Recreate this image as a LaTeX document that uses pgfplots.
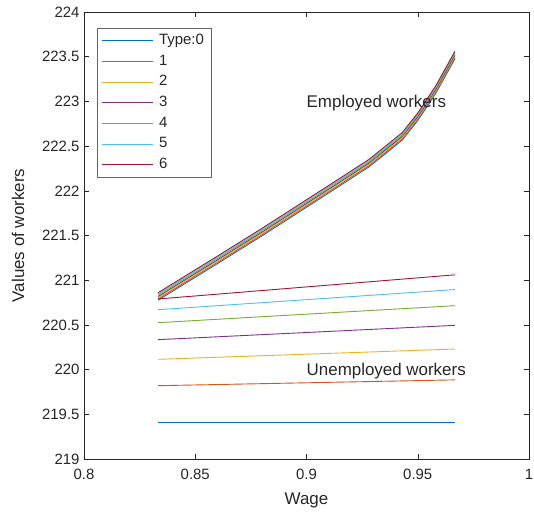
\documentclass[border=0pt]{standalone}
\usepackage{fontspec}
\setmainfont{Liberation Sans}
\usepackage{pgfplots}
\pgfplotsset{compat=1.18}
\usepackage{pgfplotstable}
\definecolor{c0}{rgb}{0,0.447,0.741}
\definecolor{c1}{rgb}{0.85,0.325,0.098}
\definecolor{c2}{rgb}{0.929,0.694,0.125}
\definecolor{c3}{rgb}{0.494,0.184,0.556}
\definecolor{c4}{rgb}{0.466,0.674,0.188}
\definecolor{c5}{rgb}{0.301,0.745,0.933}
\definecolor{c6}{rgb}{0.635,0.078,0.184}
\definecolor{axc}{rgb}{0.15,0.15,0.15}
\pgfplotstableread{
x      e0      e1      e2      e3      e4      e5      e6
0.8333 220.776 220.790 220.804 220.818 220.832 220.846 220.860
0.86   221.186 221.200 221.214 221.228 221.242 221.256 221.270
0.88   221.496 221.510 221.524 221.538 221.552 221.566 221.580
0.90   221.816 221.830 221.844 221.858 221.872 221.886 221.900
0.915  222.056 222.070 222.084 222.098 222.112 222.126 222.140
0.928  222.266 222.280 222.294 222.308 222.322 222.336 222.350
0.943  222.566 222.580 222.594 222.608 222.622 222.636 222.650
0.95   222.786 222.800 222.814 222.828 222.842 222.856 222.870
0.958  223.086 223.100 223.114 223.128 223.142 223.156 223.170
0.9667 223.476 223.490 223.504 223.518 223.532 223.546 223.560
}\employed
\pgfplotstableread{
x      u0     u1     u2     u3     u4     u5     u6
0.8333 219.41 219.82 220.115 220.335 220.525 220.67 220.79
0.9667 219.41 219.885 220.23 220.495 220.715 220.895 221.06
}\unemployed
\begin{document}
\begin{tikzpicture}
\begin{axis}[
  at={(0,0)}, anchor=south west,
  scale only axis, width=445bp, height=447bp,
  xmin=0.8, xmax=1, ymin=219, ymax=224,
  xtick={0.8,0.85,0.9,0.95,1},
  xticklabels={0.8,0.85,0.9,0.95,1},
  ytick={219,219.5,220,220.5,221,221.5,222,222.5,223,223.5,224},
  yticklabels={219,219.5,220,220.5,221,221.5,222,222.5,223,223.5,224},
  tick align=inside, major tick length=5bp,
  tick style={axc, line width=0.5bp},
  axis line style={axc, line width=0.6bp},
  ticklabel style={font=\fontsize{15}{18}\selectfont, text=axc},
  xticklabel style={yshift=-7bp},
  yticklabel style={xshift=-1bp},
  xlabel={Wage}, ylabel={Values of workers},
  label style={font=\fontsize{17}{20}\selectfont, text=axc},
  xlabel style={at={(axis description cs:0.5,-0.092)}, anchor=center},
  ylabel style={at={(axis description cs:-0.1483,0.5)}, anchor=center},
  legend cell align=left,
  legend image code/.code={\draw[#1, line width=0.9bp] (0bp,0bp) -- (51bp,0bp); \path (54bp,0bp);},
  legend style={at={(axis description cs:0.029,0.964)}, anchor=north west,
    draw=black!60, line width=0.5bp, font=\fontsize{15}{18}\selectfont, text=axc,
    inner xsep=4bp, inner ysep=3bp, row sep=2.2bp,
    nodes={text height=11bp, text depth=3.5bp, inner ysep=2bp, inner xsep=3bp}},
  every axis plot/.append style={line width=0.9bp},
]
\addplot[c0] table[x=x,y=e0]{\employed};
\addlegendentry{Type:0}
\addplot[c1] table[x=x,y=e1]{\employed};
\addlegendentry{1}
\addplot[c2] table[x=x,y=e2]{\employed};
\addlegendentry{2}
\addplot[c3] table[x=x,y=e3]{\employed};
\addlegendentry{3}
\addplot[c4] table[x=x,y=e4]{\employed};
\addlegendentry{4}
\addplot[c5] table[x=x,y=e5]{\employed};
\addlegendentry{5}
\addplot[c6] table[x=x,y=e6]{\employed};
\addlegendentry{6}
\addplot[c0, forget plot] table[x=x,y=u0]{\unemployed};
\addplot[c1, forget plot] table[x=x,y=u1]{\unemployed};
\addplot[c2, forget plot] table[x=x,y=u2]{\unemployed};
\addplot[c3, forget plot] table[x=x,y=u3]{\unemployed};
\addplot[c4, forget plot] table[x=x,y=u4]{\unemployed};
\addplot[c5, forget plot] table[x=x,y=u5]{\unemployed};
\addplot[c6, forget plot] table[x=x,y=u6]{\unemployed};
\node[anchor=west, inner sep=0pt, yshift=-2bp, font=\fontsize{17}{20}\selectfont, text=axc] at (axis cs:0.9,223) {Employed workers};
\node[anchor=west, inner sep=0pt, yshift=-2bp, font=\fontsize{17}{20}\selectfont, text=axc] at (axis cs:0.9,220) {Unemployed workers};
\end{axis}
\pgfresetboundingbox
\path (-84bp,-54bp) rectangle (450bp,459bp);
\end{tikzpicture}
\end{document}
